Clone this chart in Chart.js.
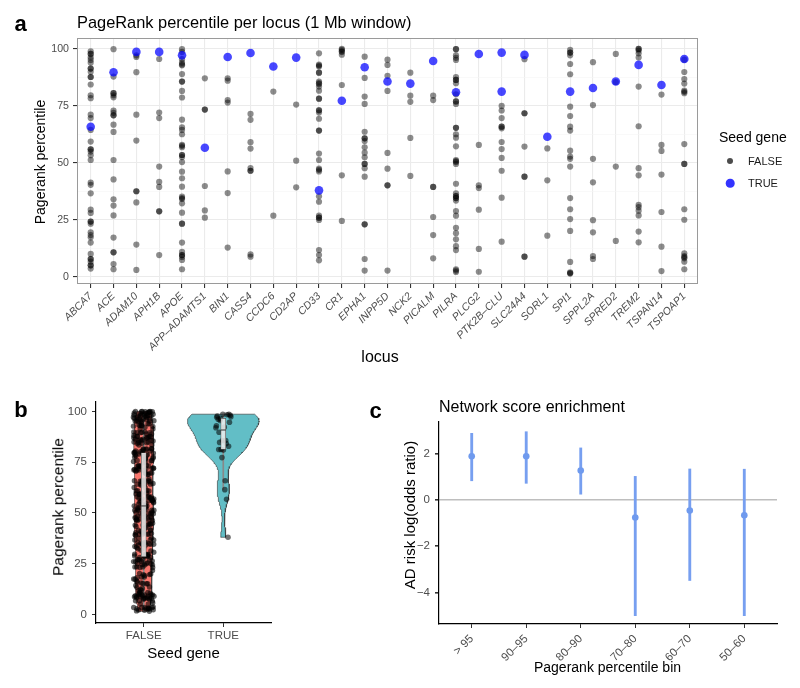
<!DOCTYPE html>
<html><head><meta charset="utf-8"><title>PageRank percentile figure</title>
<script src="https://cdn.jsdelivr.net/npm/chart.js@4.4.1/dist/chart.umd.min.js"></script>
<style>
html,body{margin:0;padding:0;background:#fff;}
body{width:800px;height:688px;position:relative;overflow:hidden;font-family:"Liberation Sans",Arial,Helvetica,sans-serif;color:#000;}
.t{position:absolute;white-space:nowrap;line-height:1;}
.c{transform:translate(-50%,-50%);}
.l{transform:translate(0,-50%);}
.r90{transform:translate(-50%,-50%) rotate(-90deg);}
.letter{font-weight:bold;font-size:22px;}
canvas{position:absolute;}
.dot{position:absolute;border-radius:50%;transform:translate(-50%,-50%);}
</style></head><body>
<canvas id="ca" width="800" height="370" style="left:0;top:0"></canvas>
<canvas id="cb" width="300" height="298" style="left:0;top:390px"></canvas>
<canvas id="cc" width="420" height="288" style="left:380px;top:400px"></canvas>

<div class="t c letter" style="left:20.5px;top:24px">a</div>
<div class="t l" style="left:77px;top:22px;font-size:16.4px">PageRank percentile per locus (1 Mb window)</div>
<div class="t r90" style="left:40px;top:162px;font-size:14px">Pagerank percentile</div>
<div class="t c" style="left:380px;top:357px;font-size:16px">locus</div>
<div class="t l" style="left:719px;top:137px;font-size:14px">Seed gene</div>
<div class="dot" style="left:730px;top:161px;width:6px;height:6px;background:rgba(0,0,0,0.7)"></div>
<div class="t l" style="left:748px;top:161px;font-size:11px;color:#1a1a1a">FALSE</div>
<div class="dot" style="left:730px;top:183px;width:8.6px;height:8.6px;background:rgba(0,0,255,0.8)"></div>
<div class="t l" style="left:748px;top:183px;font-size:11px;color:#1a1a1a">TRUE</div>

<div class="t c letter" style="left:21px;top:410px">b</div>
<div class="t r90" style="left:57.5px;top:507px;font-size:15.5px">Pagerank percentile</div>
<div class="t c" style="left:183.5px;top:652px;font-size:15px">Seed gene</div>

<div class="t c letter" style="left:375.5px;top:411px">c</div>
<div class="t l" style="left:439px;top:407px;font-size:16px">Network score enrichment</div>
<div class="t r90" style="left:409px;top:515px;font-size:15px">AD risk log(odds ratio)</div>
<div class="t c" style="left:607.5px;top:667px;font-size:14px">Pagerank percentile bin</div>

<script>
// ---------------- data ----------------
const loci = ['ABCA7','ACE','ADAM10','APH1B','APOE','APP–ADAMTS1','BIN1','CASS4','CCDC6','CD2AP','CD33','CR1','EPHA1','INPP5D','NCK2','PICALM','PILRA','PLCG2','PTK2B–CLU','SLC24A4','SORL1','SPI1','SPPL2A','SPRED2','TREM2','TSPAN14','TSPOAP1'];

// PageRank percentile of non-seed genes (FALSE), one list per locus
const nonSeedByLocus = [
  [99,97.8,97.8,96.3,95.2,94,91.4,91.4,90,87.7,87.7,84.4,79.7,78.4,71.2,69.7,64.5,59.4,56,56,55,53.4,51.3,41.4,40.4,36.7,29.5,28.1,24.3,24.3,23.4,19.6,18.4,17.4,15.1,10.1,7.9,7.9,6.7,5.1,5.1,3.7],
  [99.9,87.9,80.6,80.6,79.7,78.8,73,72,70.9,70.9,66.8,63.6,51.3,42.8,34.1,31.3,27,17.3,10.8,10.8,5.7,3.4],
  [97.2,96.5,89.8,71.2,59.8,37.6,37.6,32.7,14.2,3.1],
  [95.6,72.1,69.7,48.4,41.7,39.5,28.8,28.8,9.6],
  [99.9,98.7,95.5,94,93.2,92.8,89,85.7,85.7,81.6,78.7,69,65.6,64.5,62.6,58,57.5,56.9,53.5,53.5,52.6,50.4,46.2,43.3,39.6,35.2,34.6,34.2,32.3,28.2,23.4,23.4,15.1,11,9.6,9.6,8.8,7.5,3.4],
  [87.1,73.4,73.4,39.9,29.2,26],
  [87.1,86.1,77.6,76.5,46.3,36.8,12.9],
  [71.5,68.9,59.1,56.3,47.8,46.6,46.6,9.9,8.9],
  [81.3,26.9],
  [75.6,51,39.3],
  [98.1,93.1,92.7,92.3,89.6,89.6,85.7,85,84.6,83.5,81.7,78.2,78.2,73.2,73,72.1,69.4,64.2,64.2,54.1,51.3,47.5,47,46.3,35.4,33,26.9,26,26,25,11.8,9.6,7.3],
  [100,99.6,99,98.7,97.5,84.2,44.6,24.6],
  [96.6,87.3,79.1,75.9,63.7,60.8,60.8,59.6,56.9,54.5,52.5,49.6,49.6,47.7,44,23.1,23.1,7.9,2.8],
  [95.3,93,88.2,81.6,54.4,47.5,40.2,40.2,2.8],
  [89.6,79.5,76.8,61,44.3],
  [79.5,77.6,39.5,39.5,26.3,18.4,8.2],
  [99.9,99.9,97.2,96.1,95.2,87.6,86.4,86.4,85,80.1,77,77,75.9,65.4,65.4,62.6,61.1,57.3,51.3,50.8,50.4,49.6,40.9,36.7,35.5,35.5,34.6,34.6,33.5,28.9,26.9,21.6,19.2,16.5,13.5,11.8,3.4,2.8,2.2],
  [57.9,40.2,39,29.5,12.3,2.3],
  [75,73,69.7,65.9,65.9,65.2,59.2,56.1,52.2,46.6,34.8,15.5],
  [95.5,71.8,71.8,57.2,44,44,8.9,8.9],
  [56.4,42.4,18.1],
  [99.6,98.4,98.4,97.2,93.4,88.9,74.7,70.6,65.9,64.2,55.4,52.8,51.8,48.4,34.6,29.7,25.4,20.2,6.6,2,1.7,1.5],
  [94.2,75.4,51.8,41.5,24.9,19.6,9.2,7.9],
  [97.8,85.5,48.4,15.8],
  [100,100,99.3,98.1,96.3,83.5,66.1,47.7,44.6,31.6,30.6,29.1,27,19.9,15.2],
  [80,57.9,55.3,44.9,28.5,13.3,2.6],
  [95.3,89.9,86.8,84.8,81.7,81.2,80.6,58.3,49.6,49.6,29.7,25.1,10.4,9.2,8.7,8.2,6.7,3.4]
];

// PageRank percentile of seed genes (TRUE), one list per locus
const seedByLocus = [[65.9],[89.8],[98.7],[98.7],[97.2],[56.7],[96.5],[98.2],[92.3],[96.2],[38],[77.3],[92],[85.7],[84.8],[94.7],[81],[97.8],[98.4,81.3],[97.4],[61.5],[81.3],[82.9],[85.7],[93],[84.2],[95.6]];

const yTicksA = [0,25,50,75,100];
const seedLabels = ['FALSE','TRUE'];
const yTicksB = [0,25,50,75,100];

// panel c
const bins = ['> 95','90–95','80–90','70–80','60–70','50–60'];
const logOR = [1.89,1.89,1.27,-0.76,-0.46,-0.66];
const ciLow = [0.83,0.72,0.25,-5,-3.48,-5];
const ciHigh = [2.88,2.95,2.25,1.02,1.34,1.33];
const yTicksC = [-4,-2,0,2];

// ---------------- helpers ----------------
Chart.defaults.font.family = "'Liberation Sans', Arial, sans-serif";
Chart.defaults.animation = false;
Chart.defaults.events = [];
Chart.defaults.plugins.legend.display = false;
Chart.defaults.plugins.tooltip.enabled = false;

const fixW = w => s => { s.width = w; };
const fixH = h => s => { s.height = h; };
const setTicks = vals => s => { s.ticks = vals.map(v => ({value: v})); };

function quantile(s, p){ const h=(s.length-1)*p, lo=Math.floor(h); const hi=Math.min(lo+1,s.length-1); return s[lo]+(h-lo)*(s[hi]-s[lo]); }
function boxStats(vals){
  const s=[...vals].sort((a,b)=>a-b);
  const q1=quantile(s,.25), med=quantile(s,.5), q3=quantile(s,.75), iqr=q3-q1;
  const lo=s.find(v=>v>=q1-1.5*iqr); const hi=[...s].reverse().find(v=>v<=q3+1.5*iqr);
  return {s,q1,med,q3,lo,hi};
}
function kde(s, n){
  const N=s.length, mean=s.reduce((a,b)=>a+b,0)/N;
  const sd=Math.sqrt(s.reduce((a,b)=>a+(b-mean)**2,0)/(N-1));
  const iqr=quantile(s,.75)-quantile(s,.25);
  const bw=0.9*Math.min(sd, iqr/1.34)*Math.pow(N,-0.2);
  const out=[], lo=s[0], hi=s[N-1];
  for(let k=0;k<n;k++){
    const y=lo+(hi-lo)*k/(n-1); let d=0;
    for(const v of s){ const z=(y-v)/bw; d+=Math.exp(-0.5*z*z); }
    out.push({y, d:d/(N*bw*Math.sqrt(2*Math.PI))});
  }
  return out;
}
function violinPath(dens, g, maxD){
  const right=dens.slice().reverse().map(p=>({x:g+0.45*p.d/maxD, y:p.y}));
  const left=dens.map(p=>({x:g-0.45*p.d/maxD, y:p.y}));
  const pts=right.concat(left); pts.push(pts[0]); return pts;
}
function jitter(vals, g, w){ return vals.map((v,i)=>({x:g+((((i+1)*0.6180339887)%1)-0.5)*2*w, y:v})); }

const borderPlugin = {id:'panelBorder', afterDraw(chart){
  const {ctx, chartArea:a} = chart; ctx.save(); ctx.strokeStyle='#9a9a9a'; ctx.lineWidth=1;
  ctx.strokeRect(Math.round(a.left)+0.5, Math.round(a.top)+0.5, Math.round(a.right-a.left)-1, Math.round(a.bottom-a.top)-1);
  ctx.restore(); }};

// ---------------- panel a ----------------
const grayPts=[], bluePts=[];
nonSeedByLocus.forEach((vals,i)=>vals.forEach(v=>grayPts.push({x:i,y:v})));
seedByLocus.forEach((vals,i)=>vals.forEach(v=>bluePts.push({x:i,y:v})));
const yTicksAll = [];
yTicksA.forEach((v,i)=>{ yTicksAll.push(v); if(i<yTicksA.length-1) yTicksAll.push((v+yTicksA[i+1])/2); });
const isMajor = v => yTicksA.includes(v);

new Chart(document.getElementById('ca'), {
  type:'scatter',
  data:{datasets:[
    {data:bluePts, backgroundColor:'rgba(0,0,255,0.72)', pointRadius:4.3, pointBorderWidth:0, order:0},
    {data:grayPts, backgroundColor:'rgba(0,0,0,0.45)', pointRadius:3.1, pointBorderWidth:0, order:1}
  ]},
  options:{responsive:false, layout:{padding:{top:38,right:102,left:0,bottom:0}},
    scales:{
      x:{type:'linear', offset:false, min:-0.6, max:loci.length-0.4, afterBuildTicks:setTicks(loci.map((_,i)=>i)), afterFit:fixH(86),
        border:{display:false},
        grid:{offset:false, color:'#ebebeb', lineWidth:1.1, tickColor:'#333', tickLength:4},
        ticks:{autoSkip:false, minRotation:45, maxRotation:45, color:'#4d4d4d', font:{size:10.6, style:'italic'}, padding:2, callback:v=>loci[v]}},
      y:{type:'linear', min:-3.07, max:104.8, afterBuildTicks:setTicks(yTicksAll), afterFit:fixW(77), border:{display:false},
        grid:{color:c=>c.tick&&isMajor(c.tick.value)?'#ebebeb':'#f5f5f5', lineWidth:c=>c.tick&&isMajor(c.tick.value)?1.1:0.6,
              tickColor:c=>c.tick&&isMajor(c.tick.value)?'#333':'rgba(0,0,0,0)', tickLength:4},
        ticks:{color:'#4d4d4d', font:{size:10.6}, padding:4, callback:v=>isMajor(v)?v:''}}
    }},
  plugins:[borderPlugin]
});

// ---------------- panel b ----------------
const falseVals = nonSeedByLocus.flat();
const trueVals = seedByLocus.flat();
const sF = boxStats(falseVals), sT = boxStats(trueVals);
const kF = kde(sF.s, 128), kT = kde(sT.s, 128);
const maxD = Math.max(...kF.map(p=>p.d), ...kT.map(p=>p.d));

new Chart(document.getElementById('cb'), {
  type:'scatter',
  data:{datasets:[
    {type:'line', data:violinPath(kF,0,maxD), fill:'shape', backgroundColor:'#F8766D', borderColor:'#333', borderWidth:0.6, pointRadius:0, tension:0, order:10},
    {type:'line', data:violinPath(kT,1,maxD), fill:'shape', backgroundColor:'#62BEC6', borderColor:'#333', borderWidth:0.6, pointRadius:0, tension:0, order:10},
    {type:'bar', data:[{x:0,y:[sF.lo,sF.q1]},{x:0,y:[sF.q3,sF.hi]},{x:1,y:[sT.lo,sT.q1]},{x:1,y:[sT.q3,sT.hi]}], barThickness:1, grouped:false, backgroundColor:'#888', borderWidth:0, order:8},
    {data:jitter(falseVals,0,0.13), backgroundColor:'rgba(0,0,0,0.6)', pointRadius:2.7, pointBorderWidth:0, order:4},
    {data:jitter(trueVals,1,0.1), backgroundColor:'rgba(0,0,0,0.55)', pointRadius:2.8, pointBorderWidth:0, order:4},
    {type:'bar', data:[{x:0,y:[sF.q1,sF.q3]},{x:1,y:[sT.q1,sT.q3]}], barThickness:5, grouped:false, backgroundColor:'rgba(240,240,240,0.85)', borderColor:'#555', borderWidth:0.7, borderSkipped:false, order:2},
    {data:[{x:0,y:sF.med},{x:1,y:sT.med}], pointStyle:'line', pointRadius:2.6, pointBorderColor:'#333', pointBorderWidth:1, order:1}
  ]},
  options:{responsive:false, layout:{padding:{top:11,right:29,left:0,bottom:0}},
    scales:{
      x:{type:'linear', offset:false, min:-0.6, max:1.6, afterBuildTicks:setTicks([0,1]), afterFit:fixH(65),
        border:{display:true,color:'#000',width:1.2}, grid:{offset:false, drawOnChartArea:false, tickColor:'#333', tickLength:4},
        ticks:{color:'#4d4d4d', font:{size:11.5}, padding:2, callback:v=>seedLabels[v]}},
      y:{type:'linear', beginAtZero:false, min:-4.27, max:104.76, afterBuildTicks:setTicks(yTicksB), afterFit:fixW(96),
        border:{display:true,color:'#000',width:1.2}, grid:{drawOnChartArea:false, tickColor:'#333', tickLength:4},
        ticks:{color:'#4d4d4d', font:{size:11.5}, padding:5}}
    }}
});

// ---------------- panel c ----------------
new Chart(document.getElementById('cc'), {
  type:'scatter',
  data:{datasets:[
    {type:'bar', data:bins.map((_,i)=>({x:i, y:[ciLow[i],ciHigh[i]]})), barThickness:2.2, grouped:false, backgroundColor:'#779ff0', borderWidth:0, order:2},
    {data:bins.map((_,i)=>({x:i, y:logOR[i]})), backgroundColor:'#6f9aee', pointRadius:3.3, pointBorderWidth:0, order:1}
  ]},
  options:{responsive:false, layout:{padding:{top:22,right:23,left:0,bottom:0}},
    scales:{
      x:{type:'linear', offset:false, min:-0.6, max:bins.length-0.4, afterBuildTicks:setTicks(bins.map((_,i)=>i)), afterFit:fixH(64),
        border:{display:true,color:'#000',width:1.2}, grid:{offset:false, drawOnChartArea:false, tickColor:'#333', tickLength:4},
        ticks:{autoSkip:false, minRotation:45, maxRotation:45, color:'#4d4d4d', font:{size:11.5}, padding:4, callback:v=>bins[v]}},
      y:{type:'linear', beginAtZero:false, min:-5.36, max:3.37, afterBuildTicks:setTicks(yTicksC), afterFit:fixW(59),
        border:{display:true,color:'#000',width:1.2},
        grid:{drawOnChartArea:true, color:c=>c.tick&&c.tick.value===0?'#bebebe':'rgba(0,0,0,0)', lineWidth:1.6, tickColor:'#333', tickLength:4},
        ticks:{color:'#4d4d4d', font:{size:11.5}, padding:5, callback:v=>v<0?'−'+Math.abs(v):String(v)}}
    }}
});
</script>
</body></html>
